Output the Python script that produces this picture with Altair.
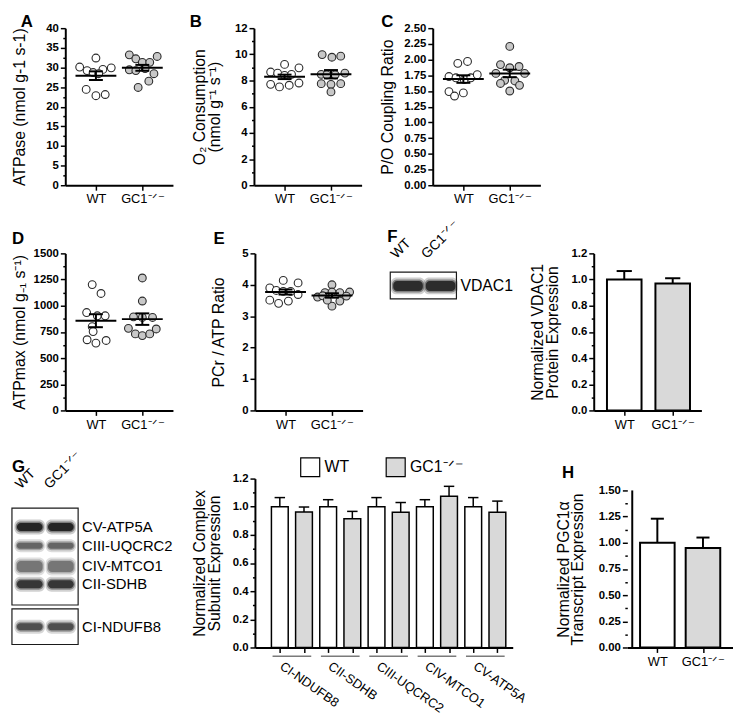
import altair as alt
import pandas as pd

FONT = "Liberation Sans"
GROUPS = ["WT", "GC1⁻ᐟ⁻"]
PT_GRAY = "#c8c8c8"
BAR_GRAY = "#d9d9d9"

# ---------------- data ----------------
# A  ATPase
A_WT = [30.1, 29.2, 32.4, 28.7, 29.5, 29.9, 24.4, 22.8, 23.1, 28.4]
A_WT_JIT = [-0.35, -0.19, 0.0, -0.06, 0.15, 0.33, -0.21, 0.0, 0.2, 0.06]
A_GC = [33.2, 32.2, 31.3, 31.3, 32.8, 29.4, 29.2, 29.7, 28.4, 26.5, 24.9]
A_GC_JIT = [-0.28, -0.14, 0.0, 0.16, 0.32, -0.28, -0.14, 0.06, 0.25, 0.14, -0.09]
A_MEAN = [27.9, 29.9]
A_SEM = [1.1, 0.75]
# B  O2 consumption
B_WT = [8.65, 8.57, 9.23, 8.39, 8.47, 8.97, 7.71, 7.51, 7.64, 7.81]
B_WT_JIT = [-0.30, -0.15, 0.0, 0.0, 0.15, 0.31, -0.30, -0.11, 0.10, 0.31]
B_GC = [9.98, 9.78, 9.86, 8.47, 8.44, 8.44, 8.57, 7.76, 7.71, 7.76, 7.13]
B_GC_JIT = [-0.19, 0.02, 0.21, -0.21, -0.09, 0.09, 0.30, -0.21, 0.0, 0.21, 0.0]
B_MEAN = [8.28, 8.48]
B_SEM = [0.17, 0.32]
# C  P/O coupling ratio
C_WT = [1.94, 1.97, 1.73, 1.71, 1.68, 1.71, 1.76, 1.49, 1.42, 1.47]
C_WT_JIT = [-0.12, 0.09, -0.31, -0.16, 0.02, 0.16, 0.30, -0.31, -0.19, 0.0]
C_GC = [2.21, 1.92, 1.87, 1.89, 1.78, 1.78, 1.67, 1.66, 1.62, 1.59, 1.50]
C_GC_JIT = [0.0, -0.2, 0.0, 0.2, -0.3, 0.32, -0.11, 0.11, -0.2, 0.21, 0.0]
C_MEAN = [1.69, 1.78]
C_SEM = [0.06, 0.06]
# D  ATPmax
D_WT = [1202, 1117, 935, 904, 904, 800, 753, 675, 643, 668]
D_WT_JIT = [-0.08, 0.11, -0.2, 0.03, 0.2, -0.08, -0.06, -0.19, 0.0, 0.22]
D_GC = [1265, 1045, 894, 888, 888, 784, 731, 715, 731, 778]
D_GC_JIT = [0.0, 0.0, -0.19, 0.0, 0.22, -0.3, -0.15, 0.0, 0.16, 0.3]
D_MEAN = [857, 872]
D_SEM = [62, 55]
# E  PCr / ATP
E_WT = [3.90, 4.14, 4.06, 3.82, 3.79, 3.79, 3.69, 3.51, 3.41, 3.48]
E_WT_JIT = [-0.34, -0.05, 0.27, -0.2, -0.05, 0.11, 0.27, -0.34, -0.15, 0.06]
E_GC = [4.00, 3.61, 3.75, 3.77, 3.75, 3.77, 3.65, 3.32, 3.48, 3.64, 3.51]
E_GC_JIT = [0.0, -0.31, -0.15, 0.0, 0.17, 0.38, -0.2, 0.0, 0.17, 0.31, -0.1]
E_MEAN = [3.77, 3.66]
E_SEM = [0.08, 0.07]
# F  VDAC1
F_MEAN = [1.0, 0.97]
F_SEM = [0.065, 0.04]
# G  complex subunits
G_SUBUNITS = ["CI-NDUFB8", "CII-SDHB", "CIII-UQCRC2", "CIV-MTCO1", "CV-ATP5A"]
G_WT = [1.0, 1.0, 1.0, 1.0, 1.0]
G_WT_SEM = [0.065, 0.05, 0.065, 0.05, 0.065]
G_GC = [0.963, 0.914, 0.96, 1.075, 0.96]
G_GC_SEM = [0.035, 0.053, 0.07, 0.07, 0.08]
# H  PGC1a transcript
H_MEAN = [1.0, 0.95]
H_SEM = [0.23, 0.10]

# blot labels
G_BLOT_BANDS = ["CV-ATP5A", "CIII-UQCRC2", "CIV-MTCO1", "CII-SDHB", "CI-NDUFB8"]
F_BLOT_BANDS = ["VDAC1"]

# blot drawing geometry (in blot pixel units)
G_BLOT_ROW = [49, 68, 89, 107, 150]
G_BLOT_THICK = [8, 6, 11, 8, 7]
G_BLOT_SHADE = ["#1c1c1c", "#5e5e5e", "#707070", "#2e2e2e", "#474747"]
F_BLOT_ROW = [33]
F_BLOT_THICK = [10]
F_BLOT_SHADE = ["#222222"]


# ---------------- helpers ----------------
def y_axis(majors, minors, fmt, title, title_x, title_y, domain=True):
    allv = sorted(majors + minors)
    test = "indexof([" + ",".join(str(v) for v in majors) + "], datum.value) >= 0"
    return alt.Axis(
        values=allv, format=fmt, labelExpr="(" + test + ") ? datum.label : ''",
        labelOverlap=False,
        tickSize=5, tickDash={"condition": {"test": test, "value": [5, 0]}, "value": [2.5, 10]},
        title=title, titleX=title_x, titleY=title_y, titleAngle=270,
        titleAlign="center", titleBaseline="alphabetic", titleFontSize=16,
        titleFontWeight="normal", titleLineHeight=15, titleColor="black", titleFont=FONT,
        labelFontSize=11.5, labelFontWeight="bold", labelPadding=2, labelColor="black",
        labelFont=FONT, domain=domain, domainColor="black", domainWidth=2, tickColor="black",
        tickWidth=1.5, grid=False,
    )


def x_axis_groups():
    expr = "datum.value == 0 ? '" + GROUPS[0] + "' : '" + GROUPS[1] + "'"
    return alt.Axis(
        values=[0, 1], labelExpr=expr, title=None, tickSize=5, tickWidth=1.5,
        tickColor="black", domainColor="black", domainWidth=2, labelFontSize=13,
        labelFontWeight="normal", labelPadding=3, labelColor="black", labelFont=FONT,
        labelAngle=0, grid=False, labelOverlap=False,
    )


def letter_title(letter, dx, offset):
    return alt.TitleParams(letter, anchor="start", frame="group", dx=dx, offset=offset,
                           fontSize=17, fontWeight="bold", baseline="alphabetic",
                           color="black", font=FONT)


def scatter_panel(wt, wt_j, gc, gc_j, mean, sem, ymax, majors, minors, fmt,
                  title, title_x, letter, letter_dx, letter_off):
    pts = pd.DataFrame({"g": [0] * len(wt) + [1] * len(gc), "v": wt + gc, "j": wt_j + gc_j})
    pts["x"] = pts["g"] + pts["j"]
    st = pd.DataFrame({"g": [0, 1], "m": mean, "s": sem})
    st["lo"] = st["m"] - st["s"]
    st["hi"] = st["m"] + st["s"]
    st["ml"] = st["g"] - 0.44
    st["mr"] = st["g"] + 0.44
    st["cl"] = st["g"] - 0.15
    st["cr"] = st["g"] + 0.15
    xs = alt.Scale(domain=[-0.66, 1.66], nice=False, zero=False)
    ys = alt.Scale(domain=[0, ymax], nice=False, zero=False)
    xa = x_axis_groups()
    ya = y_axis(majors, minors, fmt, title, title_x, 79.5)

    def X(f):
        return alt.X(f, type="quantitative", scale=xs, axis=xa)

    def Y(f):
        return alt.Y(f, type="quantitative", scale=ys, axis=ya)

    points = alt.Chart(pts).mark_point(
        shape="circle", filled=True, size=62, stroke="#2b2b2b", strokeWidth=1.1, opacity=1
    ).encode(x=X("x"), y=Y("v"),
             fill=alt.condition("datum.g == 0", alt.value("white"), alt.value(PT_GRAY)))
    base = alt.Chart(st)
    rule = dict(color="black", strokeWidth=2)
    mline = base.mark_rule(**rule).encode(x=X("ml"), x2="mr:Q", y=Y("m"))
    vline = base.mark_rule(**rule).encode(x=X("g"), y=Y("lo"), y2="hi:Q")
    cap_hi = base.mark_rule(**rule).encode(x=X("cl"), x2="cr:Q", y=Y("hi"))
    cap_lo = base.mark_rule(**rule).encode(x=X("cl"), x2="cr:Q", y=Y("lo"))
    return alt.layer(points, mline, vline, cap_hi, cap_lo).properties(
        width=109, height=159, title=letter_title(letter, letter_dx, letter_off))


def bar2_panel(mean, sem, ymax, majors, minors, fmt, title, title_x, dom, cap, width=109,
               height=159, top_pad=0, letter=None, letter_dx=0, letter_off=0):
    df = pd.DataFrame({"g": [0, 1], "m": mean, "s": sem})
    df["hi"] = df["m"] + df["s"]
    df["cl"] = df["g"] - cap
    df["cr"] = df["g"] + cap
    full = height + top_pad
    xs = alt.Scale(domain=dom, nice=False, zero=False)
    ys = alt.Scale(domain=[0, ymax * full / height], nice=False, zero=False)
    xa = x_axis_groups()
    ya = y_axis(majors, minors, fmt, title, title_x, top_pad + height / 2, domain=(top_pad == 0))

    def X(f):
        return alt.X(f, type="quantitative", scale=xs, axis=xa)

    def Y(f):
        return alt.Y(f, type="quantitative", scale=ys, axis=ya)

    base = alt.Chart(df)
    bars = base.mark_bar(size=35, stroke="black", strokeWidth=2).encode(
        x=X("g"), y=Y("m"),
        fill=alt.condition("datum.g == 0", alt.value("white"), alt.value(BAR_GRAY)))
    err = base.mark_rule(color="black", strokeWidth=2).encode(x=X("g"), y=Y("m"), y2="hi:Q")
    caps = base.mark_rule(color="black", strokeWidth=2).encode(x=X("cl"), x2="cr:Q", y=Y("hi"))
    layers = [bars, err, caps]
    if top_pad:
        ax = pd.DataFrame({"x": [dom[0]], "y0": [0], "y1": [ymax]})
        layers.insert(0, alt.Chart(ax).mark_rule(color="black", strokeWidth=2).encode(
            x=X("x"), y=Y("y0"), y2="y1:Q"))
    ch = alt.layer(*layers).properties(width=width, height=full)
    if letter:
        ch = ch.properties(title=letter_title(letter, letter_dx, letter_off))
    return ch


def g_bar_panel():
    rows = []
    for k, name in enumerate(G_SUBUNITS):
        rows.append({"idx": 2 * k, "g": 0, "m": G_WT[k], "s": G_WT_SEM[k]})
        rows.append({"idx": 2 * k + 1, "g": 1, "m": G_GC[k], "s": G_GC_SEM[k]})
    df = pd.DataFrame(rows)
    df["hi"] = df["m"] + df["s"]
    df["cl"] = df["idx"] - 0.216
    df["cr"] = df["idx"] + 0.216
    grp = pd.DataFrame({"name": G_SUBUNITS})
    grp["c"] = [2 * k + 0.5 for k in range(len(G_SUBUNITS))]
    grp["l"] = grp["c"] - 0.8
    grp["r"] = grp["c"] + 0.8
    grp["tx"] = grp["c"] - 0.3
    grp["gy"] = -0.063
    grp["ty"] = -0.09
    # legend (drawn in data units of the panel, above the plot)
    leg = pd.DataFrame({"t": GROUPS, "g": [0, 1]})
    leg["b0"] = [0.864, 4.40]
    leg["b1"] = leg["b0"] + 0.786
    leg["tx"] = leg["b1"] + 0.2
    leg["y0"] = 1.347
    leg["y1"] = 1.214
    leg["ym"] = 1.28

    xs = alt.Scale(domain=[-0.825, 9.43], nice=False, zero=False)
    ys = alt.Scale(domain=[0, 1.2], nice=False, zero=False)
    xa = alt.Axis(values=list(range(10)), labels=False, title=None, tickSize=5, tickWidth=1.5,
                  tickColor="black", domainColor="black", domainWidth=2, grid=False)
    ya = y_axis([0, 0.2, 0.4, 0.6, 0.8, 1.0, 1.2], [0.1, 0.3, 0.5, 0.7, 0.9, 1.1], ".1f",
                ["Normalized Complex", "Subunit Expression"], -51, 85.5)

    def X(f):
        return alt.X(f, type="quantitative", scale=xs, axis=xa)

    def Y(f):
        return alt.Y(f, type="quantitative", scale=ys, axis=ya)

    fill = alt.condition("datum.g == 0", alt.value("white"), alt.value(BAR_GRAY))
    base = alt.Chart(df)
    bars = base.mark_bar(size=17, stroke="black", strokeWidth=1.5).encode(
        x=X("idx"), y=Y("m"), fill=fill)
    err = base.mark_rule(color="black", strokeWidth=1.5).encode(x=X("idx"), y=Y("m"), y2="hi:Q")
    caps = base.mark_rule(color="black", strokeWidth=1.5).encode(x=X("cl"), x2="cr:Q", y=Y("hi"))
    gb = alt.Chart(grp)
    glines = gb.mark_rule(color="#7a7a7a", strokeWidth=1.5).encode(
        x=X("l"), x2="r:Q", y=Y("gy"))
    glabels = gb.mark_text(angle=35, align="left", baseline="top", fontSize=13, font=FONT,
                           color="black").encode(x=X("tx"), y=Y("ty"), text="name:N")
    lb = alt.Chart(leg)
    lboxes = lb.mark_rect(stroke="black", strokeWidth=1.2).encode(
        x=X("b0"), x2="b1:Q", y=Y("y0"), y2="y1:Q", fill=fill)
    ltext = lb.mark_text(align="left", baseline="middle", fontSize=16, font=FONT,
                         color="black").encode(x=X("tx"), y=Y("ym"), text="t:N")
    return alt.layer(bars, err, caps, glines, glabels, lboxes, ltext).properties(
        width=261, height=171)


def blot_panel(width, height, boxes, lanes, hw, rows, thick, shades, labels, label_size,
               lane_dx, lane_y, letter, letter_x, letter_y):
    xs = alt.Scale(domain=[0, width], nice=False, zero=False)
    ys = alt.Scale(domain=[0, height], nice=False, zero=False, reverse=True)

    def X(f):
        return alt.X(f, type="quantitative", scale=xs, axis=None)

    def Y(f):
        return alt.Y(f, type="quantitative", scale=ys, axis=None)

    bx = pd.DataFrame({"y0": [b[0] for b in boxes], "y1": [b[1] for b in boxes]})
    bx["x0"] = 0
    bx["x1"] = width
    box = alt.Chart(bx).mark_rect(fill="white", stroke="#1a1a1a", strokeWidth=1.2).encode(
        x=X("x0"), x2="x1:Q", y=Y("y0"), y2="y1:Q")
    layers = [box]
    for padx, pady, op, rad in [(2.5, 3.5, 0.22, 6), (1.2, 1.5, 0.45, 5), (0, 0, 0.9, 4)]:
        recs = []
        for r, t, sh in zip(rows, thick, shades):
            for lx in lanes:
                recs.append({"x0": lx - hw - padx, "x1": lx + hw + padx,
                             "y0": r - t / 2 - pady, "y1": r + t / 2 + pady, "sh": sh})
        layers.append(alt.Chart(pd.DataFrame(recs)).mark_rect(cornerRadius=rad, opacity=op).encode(
            x=X("x0"), x2="x1:Q", y=Y("y0"), y2="y1:Q", fill=alt.Fill("sh:N", scale=None)))
    lab = pd.DataFrame({"t": labels, "y": rows, "x": [width + 4] * len(labels)})
    layers.append(alt.Chart(lab).mark_text(align="left", baseline="middle", fontSize=label_size,
                                           font=FONT, color="black").encode(
        x=X("x"), y=Y("y"), text="t:N"))
    ln = pd.DataFrame({"t": GROUPS, "x": [lx - d for lx, d in zip(lanes, lane_dx)],
                       "y": [lane_y] * 2})
    layers.append(alt.Chart(ln).mark_text(angle=315, align="left", baseline="alphabetic",
                                          fontSize=14, font=FONT, color="black").encode(
        x=X("x"), y=Y("y"), text="t:N"))
    lt = pd.DataFrame({"t": [letter], "x": [letter_x], "y": [letter_y]})
    layers.append(alt.Chart(lt).mark_text(align="left", baseline="alphabetic", fontSize=17,
                                          fontWeight="bold", font=FONT, color="black").encode(
        x=X("x"), y=Y("y"), text="t:N"))
    return alt.layer(*layers).properties(width=width, height=height)


def spacer(w, h=1):
    return alt.Chart(pd.DataFrame({"s": [0]})).mark_point(opacity=0).encode(
        x=alt.X("s:Q", axis=None), y=alt.Y("s:Q", axis=None)).properties(width=w, height=h)


# ---------------- panels ----------------
pA = scatter_panel(A_WT, A_WT_JIT, A_GC, A_GC_JIT, A_MEAN, A_SEM, 40,
                   [0, 5, 10, 15, 20, 25, 30, 35, 40], [2.5, 7.5, 12.5, 17.5, 22.5, 27.5, 32.5, 37.5],
                   "d", "ATPase (nmol g-1 s-1)", -41, "A", -45, -21.5)
pB = scatter_panel(B_WT, B_WT_JIT, B_GC, B_GC_JIT, B_MEAN, B_SEM, 12,
                   [0, 2, 4, 6, 8, 10, 12], [1, 3, 5, 7, 9, 11],
                   "d", ["O₂ Consumption", "(nmol g⁻¹ s⁻¹)"], -50, "B", -65, -21.5)
pC = scatter_panel(C_WT, C_WT_JIT, C_GC, C_GC_JIT, C_MEAN, C_SEM, 2.5,
                   [0, 0.25, 0.5, 0.75, 1.0, 1.25, 1.5, 1.75, 2.0, 2.25, 2.5], [],
                   ".2f", "P/O Coupling Ratio", -41, "C", -52, -21.5)
pD = scatter_panel(D_WT, D_WT_JIT, D_GC, D_GC_JIT, D_MEAN, D_SEM, 1500,
                   [0, 250, 500, 750, 1000, 1250, 1500], [125, 375, 625, 875, 1125, 1375],
                   "d", "ATPmax (nmol g₋₁ s⁻¹)", -41, "D", -54, -13.5)
pE = scatter_panel(E_WT, E_WT_JIT, E_GC, E_GC_JIT, E_MEAN, E_SEM, 5,
                   [0, 1, 2, 3, 4, 5], [0.5, 1.5, 2.5, 3.5, 4.5],
                   "d", "PCr / ATP Ratio", -32, "E", -42, -13.5)
pFblot = blot_panel(67, 159, [(19, 46)], [18, 51], 15, F_BLOT_ROW, F_BLOT_THICK, F_BLOT_SHADE,
                    F_BLOT_BANDS, 16, [12, 14], 6, "F", -3, -12)
pF = bar2_panel(F_MEAN, F_SEM, 1.2, [0, 0.2, 0.4, 0.6, 0.8, 1.0, 1.2],
                [0.1, 0.3, 0.5, 0.7, 0.9, 1.1], ".1f",
                ["Normalized VDAC1", "Protein Expression"], -52, [-0.528, 1.49], 0.157)
pGblot = blot_panel(67, 168, [(30, 128), (132, 168)], [18, 49.5], 13, G_BLOT_ROW, G_BLOT_THICK,
                    G_BLOT_SHADE, G_BLOT_BANDS, 15, [9, 11.5], 11, "G", 0, -7)
pG = g_bar_panel()
pH = bar2_panel(H_MEAN, H_SEM, 1.5, [0, 0.25, 0.5, 0.75, 1.0, 1.25, 1.5],
                [0.125, 0.375, 0.625, 0.875, 1.125, 1.375], ".2f",
                ["Normalized PGC1α", "Transcript Expression"], -60, [-0.55, 1.55], 0.143,
                width=107, height=159, top_pad=12, letter="H", letter_dx=-66, letter_off=-16.5)

# ---------------- layout: rows of flush hconcats stacked in a flush vconcat ----------------
def row(*cells):
    return alt.hconcat(*cells, spacing=0, bounds="flush").resolve_scale(
        x="independent", y="independent")


row0 = row(spacer(55), pA, spacer(82), pB, spacer(72), pC)
row1 = row(spacer(55), pD, spacer(83), pE, spacer(28), pFblot, spacer(139), pF)
row2 = row(spacer(1), pGblot, spacer(179), pG, spacer(116), pH)

chart = alt.vconcat(row0, row1, row2, spacing=228, bounds="flush").resolve_scale(
    x="independent", y="independent").properties(
    padding=0).configure(font=FONT).configure_view(stroke=None)

chart.save("out.html", embed_options={"renderer": "svg", "actions": False})
